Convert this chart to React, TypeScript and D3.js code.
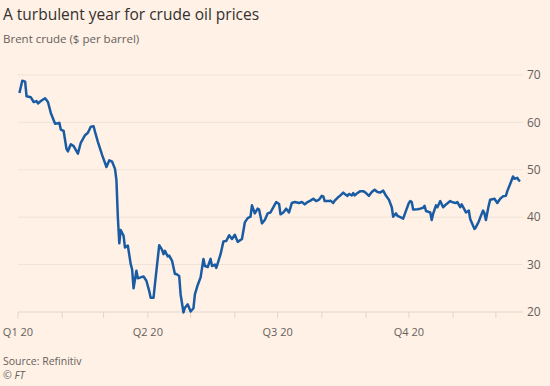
import React, { useEffect, useRef } from "react";
import * as d3 from "d3";

// Brent crude, 2020
const dates = [
  "01-02", "01-04", "01-06", "01-07", "01-10", "01-12", "01-14", "01-15", "01-17", "01-20",
  "01-22", "01-24", "01-27", "01-30", "01-31", "02-02", "02-04", "02-05", "02-07", "02-09",
  "02-12", "02-14", "02-17", "02-19", "02-21", "02-23", "02-24", "02-26", "02-29", "03-03",
  "03-05", "03-07", "03-09", "03-10", "03-11", "03-12", "03-13", "03-15", "03-16", "03-18",
  "03-20", "03-21", "03-22", "03-24", "03-25", "03-28", "03-29", "03-31", "04-02", "04-03",
  "04-05", "04-06", "04-09", "04-11", "04-12", "04-13", "04-15", "04-16", "04-18", "04-20",
  "04-21", "04-23", "04-24", "04-26", "04-27", "04-29", "05-01", "05-03", "05-04", "05-06",
  "05-08", "05-10", "05-11", "05-13", "05-15", "05-16", "05-18", "05-19", "05-22", "05-24",
  "05-26", "05-28", "05-30", "06-01", "06-03", "06-06", "06-08", "06-10", "06-12", "06-13",
  "06-15", "06-17", "06-18", "06-20", "06-22", "06-24", "06-26", "06-30", "07-02", "07-03",
  "07-05", "07-07", "07-09", "07-11", "07-13", "07-16", "07-18", "07-20", "07-22", "07-24",
  "07-26", "07-28", "07-30", "08-01", "08-02", "08-03", "08-06", "08-07", "08-09", "08-10",
  "08-12", "08-14", "08-16", "08-17", "08-19", "08-20", "08-22", "08-23", "08-24", "08-26",
  "08-28", "08-30", "09-01", "09-03", "09-05", "09-07", "09-09", "09-11", "09-13", "09-15",
  "09-17", "09-19", "09-20", "09-22", "09-23", "09-25", "09-27", "09-29", "10-01", "10-02",
  "10-03", "10-04", "10-07", "10-09", "10-11", "10-12", "10-13", "10-16", "10-17", "10-18",
  "10-20", "10-21", "10-23", "10-25", "10-27", "10-30", "11-01", "11-03", "11-04", "11-06",
  "11-07", "11-09", "11-10", "11-12", "11-13", "11-15", "11-16", "11-17", "11-19", "11-20",
  "11-22", "11-23", "11-24", "11-26", "11-27", "11-30", "12-02", "12-04", "12-06", "12-08",
  "12-09", "12-11", "12-13", "12-14", "12-16", "12-17", "12-18",
];

const prices = [
  66.2, 68.8, 68.6, 65.5, 65.3, 64.3, 64.5, 64.0, 64.5, 65.1,
  64.3, 62.0, 59.7, 59.9, 58.5, 58.2, 54.4, 53.9, 55.4, 55.0,
  53.4, 55.7, 57.3, 57.8, 59.1, 59.2, 58.0, 55.9, 53.1, 50.6,
  52.0, 51.7, 50.2, 47.8, 40.0, 34.5, 37.3, 36.1, 33.6, 34.0,
  30.1, 29.0, 25.0, 28.7, 27.1, 27.4, 27.5, 26.6, 24.4, 23.0,
  23.0, 25.9, 34.1, 33.1, 32.2, 32.9, 31.7, 31.9, 30.8, 28.0,
  28.0, 27.6, 23.7, 19.9, 20.9, 21.6, 20.1, 20.8, 23.7, 25.7,
  27.3, 31.2, 29.7, 29.5, 31.2, 29.7, 30.0, 29.3, 32.2, 34.9,
  35.0, 36.2, 35.4, 36.3, 34.8, 35.4, 38.9, 39.8, 40.1, 42.5,
  40.8, 41.8, 41.6, 38.7, 39.4, 40.8, 41.0, 43.2, 42.8, 40.6,
  41.0, 41.8, 41.0, 43.0, 43.2, 43.0, 43.2, 42.7, 43.2, 43.5,
  43.9, 43.4, 43.7, 44.5, 44.4, 43.4, 43.4, 43.5, 43.0, 43.5,
  44.1, 44.6, 45.2, 44.9, 44.5, 44.9, 44.6, 45.1, 44.6, 45.1,
  45.5, 45.5, 45.1, 44.5, 45.3, 45.8, 45.3, 45.2, 45.6, 44.5,
  43.7, 42.1, 40.1, 40.8, 40.3, 40.0, 39.7, 41.4, 43.0, 43.4,
  43.2, 41.6, 41.7, 41.8, 42.0, 42.4, 41.3, 41.0, 39.4, 40.7,
  42.5, 42.1, 43.4, 42.1, 42.7, 43.4, 43.1, 43.0, 43.2, 42.1,
  42.7, 41.6, 41.0, 41.4, 39.6, 38.2, 37.5, 37.9, 39.1, 39.9,
  41.4, 40.8, 39.4, 42.5, 43.7, 43.9, 43.0, 43.9, 44.4, 44.5,
  45.5, 47.0, 48.6, 48.1, 48.3, 47.8, 47.6,
];

const yTicks = [20, 30, 40, 50, 60, 70];
const quarterLabels = ["Q1 20", "Q2 20", "Q3 20", "Q4 20"];

const Chart = () => {
  const chartRef = useRef(null);

  useEffect(() => {
    const svg = d3.select(chartRef.current);
    const width = 550;
    const height = 386;
    const margin = { left: 18, right: 27, top: 75, bottom: 74 };
    const bg = "#fff1e5";
    const grey = "#66605c";
    const font = "'Open Sans', sans-serif";

    const parse = d3.timeParse("%Y-%m-%d");
    const data = dates.map((d, i) => ({ date: parse("2020-" + d), value: prices[i] }));

    svg.selectAll("*").remove();

    svg.append("rect").attr("width", width).attr("height", height).attr("fill", bg);

    const x = d3.scaleTime()
      .domain([new Date(2020, 0, 1), new Date(2020, 11, 20)])
      .range([margin.left, width - margin.right]);

    const y = d3.scaleLinear()
      .domain([20, 70])
      .range([height - margin.bottom, margin.top]);

    // horizontal gridlines
    svg.selectAll(".grid")
      .data(yTicks)
      .enter()
      .append("line")
      .attr("class", "grid")
      .attr("x1", margin.left)
      .attr("x2", width - margin.right)
      .attr("y1", d => y(d))
      .attr("y2", d => y(d))
      .attr("stroke", d => (d === 20 ? "#e2d5ca" : "#efe3d8"))
      .attr("stroke-width", 1);

    // y labels on the right
    svg.selectAll(".ylabel")
      .data(yTicks)
      .enter()
      .append("text")
      .attr("class", "ylabel")
      .attr("x", width - margin.right + 4)
      .attr("y", d => y(d))
      .attr("dy", "0.35em")
      .attr("font-family", font)
      .attr("font-size", 12)
      .attr("fill", grey)
      .text(d => d);

    // monthly ticks
    const months = x.ticks(d3.timeMonth.every(1));
    svg.selectAll(".xtick")
      .data(months)
      .enter()
      .append("line")
      .attr("class", "xtick")
      .attr("x1", d => x(d))
      .attr("x2", d => x(d))
      .attr("y1", y(20))
      .attr("y2", y(20) + 6)
      .attr("stroke", "#e2d5ca");

    // quarter labels
    const quarters = x.ticks(d3.timeMonth.every(3));
    svg.selectAll(".xlabel")
      .data(quarters)
      .enter()
      .append("text")
      .attr("class", "xlabel")
      .attr("x", d => x(d))
      .attr("y", y(20) + 24)
      .attr("text-anchor", "middle")
      .attr("font-family", font)
      .attr("font-size", 11)
      .attr("fill", grey)
      .text((d, i) => quarterLabels[i]);

    const line = d3.line()
      .x(d => x(d.date))
      .y(d => y(d.value))
      .curve(d3.curveLinear);

    svg.append("path")
      .datum(data)
      .attr("d", line)
      .attr("fill", "none")
      .attr("stroke", "#1a5ca3")
      .attr("stroke-width", 2.5)
      .attr("stroke-linejoin", "round");

    // title and notes
    svg.append("text")
      .attr("x", 3)
      .attr("y", 20)
      .attr("font-family", font)
      .attr("font-size", 15.5)
      .attr("fill", "#33302e")
      .text("A turbulent year for crude oil prices");

    svg.append("text")
      .attr("x", 3)
      .attr("y", 43)
      .attr("font-family", font)
      .attr("font-size", 11.5)
      .attr("fill", grey)
      .text("Brent crude ($ per barrel)");

    svg.append("text")
      .attr("x", 3)
      .attr("y", 365)
      .attr("font-family", font)
      .attr("font-size", 10.5)
      .attr("fill", grey)
      .text("Source: Refinitiv");

    svg.append("text")
      .attr("x", 3)
      .attr("y", 379)
      .attr("font-family", font)
      .attr("font-size", 10.5)
      .attr("font-style", "italic")
      .attr("fill", grey)
      .text("© FT");
  }, []);

  return (
    <svg
      ref={chartRef}
      width="550"
      height="386"
      style={{ position: "absolute", left: 0, top: 0 }}
    ></svg>
  );
};

export default function App() {
  return <Chart />;
}
